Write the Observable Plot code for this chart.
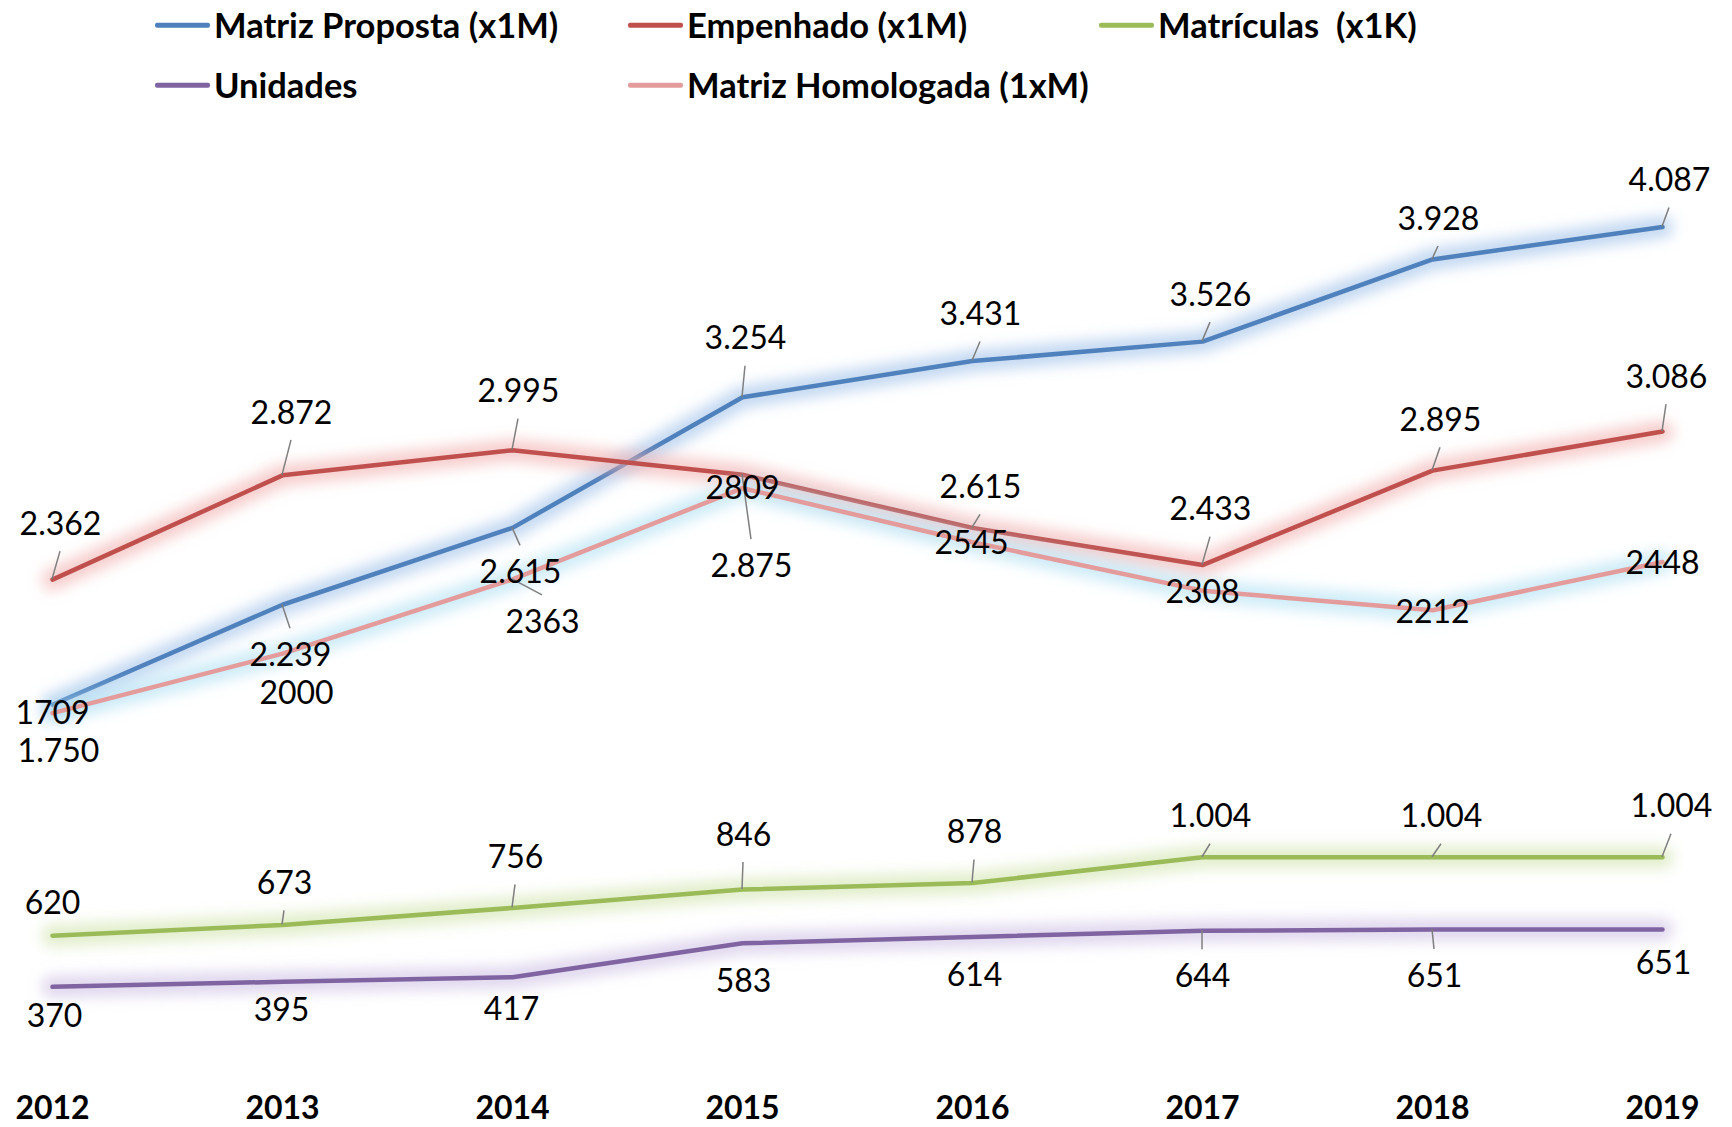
<!DOCTYPE html>
<html><head><meta charset="utf-8">
<script src="https://cdn.jsdelivr.net/npm/d3@7"></script>
<script src="https://cdn.jsdelivr.net/npm/@observablehq/plot@0.6"></script>
<style>
html,body{margin:0;padding:0;background:#fff;}
#wrap{position:relative;width:1732px;height:1127px;overflow:hidden;font-family:Lato,"Open Sans",sans-serif;}
#legend{position:relative;height:110px;}
.item{position:absolute;display:flex;align-items:center;font-weight:bold;font-size:34.5px;line-height:1;white-space:pre;color:#000;transform:translateY(-50%);}
.sw{width:55px;height:5px;margin-right:4px;border-radius:2px;}
#chart svg{display:block;}
</style></head>
<body><div id="wrap"><div id="legend"></div><div id="chart"></div></div>
<script>
// ---- data ----
const years = [2012, 2013, 2014, 2015, 2016, 2017, 2018, 2019];
const seriesNames = ["Matriz Proposta (x1M)", "Empenhado (x1M)", "Matrículas  (x1K)", "Unidades", "Matriz Homologada (1xM)"];
const matrizProposta   = [1750, 2239, 2615, 3254, 3431, 3526, 3928, 4087];
const empenhado        = [2362, 2872, 2995, 2875, 2615, 2433, 2895, 3086];
const matriculas       = [620, 673, 756, 846, 878, 1004, 1004, 1004];
const unidades         = [370, 395, 417, 583, 614, 644, 651, 651];
const matrizHomologada = [1709, 2000, 2363, 2809, 2545, 2308, 2212, 2448];
const seriesValues = [matrizProposta, empenhado, matriculas, unidades, matrizHomologada];

// ---- styles / layout ----
const lineColors = ["#4F81BD", "#C0504D", "#9BBB59", "#8064A2", "#E39C9B"];
const glowColors = ["#9CC0EA", "#F2AEAC", "#CFE2A8", "#CBBDE2", "#AEE0F4"];
// label offsets in px [dx, dy, leader?]
const labelLayout = [
  [[6,47,0],[8,51,1],[8,45,1],[3,-58,1],[8,-46,1],[8,-46,1],[6,-40,1],[7,-46,1]],
  [[8,-55,1],[9,-62,1],[6,-58,1],[9,92,1],[8,-40,1],[8,-55,1],[8,-50,1],[4,-54,1]],
  [[0,-32,0],[2,-41,1],[3,-50,1],[1,-54,1],[2,-50,1],[8,-40,1],[9,-40,1],[9,-50,1]],
  [[2,30,0],[-1,29,0],[-1,33,0],[1,38,0],[2,39,0],[0,46,1],[2,47,1],[1,34,0]],
  [[0,1,0],[14,40,0],[30,43,1],[0,1,0],[-1,2,0],[0,2,0],[0,2,0],[0,2,0]]
];
const legendPos = [[155,25],[628,25],[1099,25],[155,85],[628,85]];

const ptBR = d3.formatLocale({decimal: ",", thousands: ".", grouping: [3], currency: ["R$", ""]});
const fmtDot = ptBR.format(",d");
const fmtPlain = d3.format("d");
const formats = [fmtDot, fmtDot, fmtDot, fmtPlain, fmtPlain];

// legend
const legend = d3.select("#legend");
seriesNames.forEach((name, i) => {
  const it = legend.append("div").attr("class", "item")
    .style("left", legendPos[i][0] + "px").style("top", legendPos[i][1] + "px");
  it.append("div").attr("class", "sw").style("background", lineColors[i]);
  it.append("span").text(name);
});

const rows = seriesValues.flatMap((vals, si) => years.map((yr, j) => ({si, j, year: yr, value: vals[j]})));
const rowsOf = si => rows.filter(r => r.si === si);

const marks = [];
seriesValues.forEach((_, si) => {
  marks.push(Plot.line(rowsOf(si), {x: "year", y: "value", stroke: glowColors[si], strokeWidth: 22, strokeOpacity: 0.6}));
  marks.push(Plot.line(rowsOf(si), {x: "year", y: "value", stroke: lineColors[si], strokeWidth: 4.5}));
});
// leader lines
marks.push((index, scales) => {
  const g = d3.create("svg:g").attr("stroke", "#7F7F7F").attr("stroke-width", 1.5);
  rows.forEach(r => {
    const [dx, dy, lead] = labelLayout[r.si][r.j];
    if (!lead) return;
    const x0 = scales.x(r.year), y0 = scales.y(r.value);
    g.append("line").attr("x1", x0).attr("y1", y0)
      .attr("x2", x0 + dx).attr("y2", y0 + dy - Math.sign(dy) * 27);
  });
  return g.node();
});
rows.forEach(r => {
  const [dx, dy] = labelLayout[r.si][r.j];
  marks.push(Plot.text([r], {x: "year", y: "value", text: d => formats[d.si](d.value), dx, dy, fontSize: 32, fill: "#000"}));
});
marks.push(Plot.text(years, {x: d => d, frameAnchor: "bottom", dy: 56, text: d => String(d), fontSize: 32, fontWeight: "bold", fill: "#000"}));

const chart = Plot.plot({
  width: 1732,
  height: 1017,
  marginTop: 32,
  marginBottom: 65,
  marginLeft: 50,
  marginRight: 69,
  style: {fontFamily: "Lato, 'Open Sans', sans-serif", background: "#fff", overflow: "visible"},
  x: {type: "point", domain: years, padding: 0, axis: null},
  y: {domain: [0, 4500], axis: null},
  marks
});
const svg = d3.select(chart);
const defs = svg.insert("defs", ":first-child");
defs.append("filter").attr("id", "glow").attr("filterUnits", "userSpaceOnUse")
  .attr("x", -200).attr("y", -200).attr("width", 2400).attr("height", 1500)
  .append("feGaussianBlur").attr("stdDeviation", 7);
svg.selectAll('g[stroke-width="22"]').attr("filter", "url(#glow)");
document.getElementById("chart").appendChild(chart);
</script>
</body></html>
